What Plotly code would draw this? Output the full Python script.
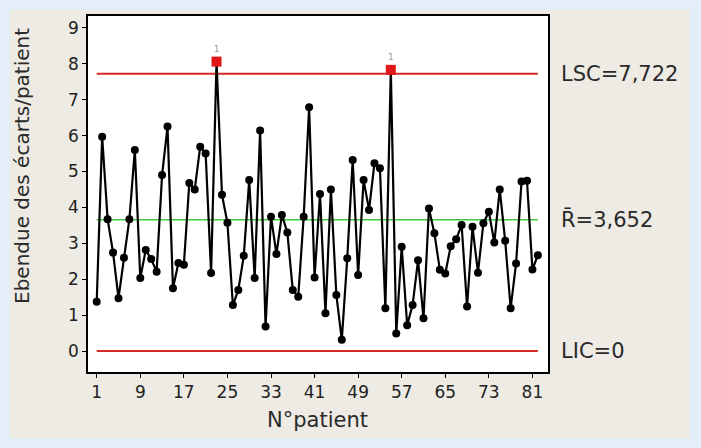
import plotly.graph_objects as go

patients = list(range(1, 83))
ranges = [1.37, 5.97, 3.67, 2.74, 1.47, 2.6, 3.67, 5.6, 2.03, 2.81,
          2.56, 2.21, 4.9, 6.25, 1.75, 2.45, 2.4, 4.68, 4.5, 5.69,
          5.5, 2.17, 8.06, 4.35, 3.57, 1.28, 1.7, 2.65, 4.76, 2.03,
          6.14, 0.68, 3.74, 2.7, 3.79, 3.3, 1.7, 1.51, 3.74, 6.79,
          2.05, 4.37, 1.05, 4.5, 1.56, 0.31, 2.58, 5.32, 2.12, 4.76,
          3.93, 5.23, 5.09, 1.19, 7.83, 0.49, 2.9, 0.72, 1.28, 2.53,
          0.91, 3.97, 3.28, 2.26, 2.16, 2.92, 3.11, 3.51, 1.24, 3.46,
          2.18, 3.56, 3.88, 3.02, 4.5, 3.07, 1.19, 2.44, 4.72, 4.74,
          2.27, 2.67]
LSC = 7.722
RBAR = 3.652
LIC = 0
limit_labels = ["LSC=7,722", "R\u0304=3,652", "LIC=0"]
x_ticks = [1, 9, 17, 25, 33, 41, 49, 57, 65, 73, 81]
y_ticks = list(range(0, 10))

out_x = [p for p, v in zip(patients, ranges) if v > LSC]
out_y = [v for v in ranges if v > LSC]

FONT = "DejaVu Sans"
fig = go.Figure()

# control lines
for val, col, w in [(LSC, "#d42a2a", 2), (LIC, "#d42a2a", 2), (RBAR, "#3ccc3c", 1.5)]:
    fig.add_trace(go.Scatter(x=[patients[0], patients[-1]], y=[val, val], mode="lines",
                             line=dict(color=col, width=w), hoverinfo="skip", showlegend=False))

fig.add_trace(go.Scatter(x=patients, y=ranges, mode="lines+markers",
                         line=dict(color="black", width=2.2),
                         marker=dict(color="black", size=8, symbol="circle"),
                         showlegend=False))
fig.add_trace(go.Scatter(x=out_x, y=out_y, mode="markers+text",
                         marker=dict(color="#e01818", size=10, symbol="square"),
                         text=["1"] * len(out_x), textposition="top center",
                         textfont=dict(size=9, color="#999999", family=FONT),
                         showlegend=False))

W, H = 701, 448
L, R, T, B = 88, 153, 16, 76
pw, ph = W - L - R, H - T - B
fig.add_shape(type="rect", xref="paper", yref="paper",
              x0=(10 - L) / pw, x1=(690 - L) / pw,
              y0=((H - B) - 438) / ph, y1=((H - B) - 10) / ph,
              fillcolor="#eeebe4", line=dict(width=0), layer="below")
fig.add_shape(type="rect", xref="paper", yref="paper", x0=0, x1=1, y0=0, y1=1,
              fillcolor="white", line=dict(width=0), layer="below")

for val, lab in zip([LSC, RBAR, LIC], limit_labels):
    fig.add_annotation(x=1, xref="paper", y=val, yref="y", text=lab, showarrow=False,
                       xanchor="left", yanchor="middle", xshift=11,
                       font=dict(family=FONT, size=21, color="#2a2a2a"))

fig.add_annotation(x=(22 - L) / pw, xref="paper", y=((H - B) - 166) / ph, yref="paper",
                   text="Ebendue des écarts/patient", textangle=-90, showarrow=False,
                   xanchor="center", yanchor="middle",
                   font=dict(family=FONT, size=20, color="#2a2a2a"))
fig.add_annotation(x=(317 - L) / pw, xref="paper", y=((H - B) - 420) / ph, yref="paper",
                   text="N°patient", showarrow=False, xanchor="center", yanchor="middle",
                   font=dict(family=FONT, size=21, color="#2a2a2a"))

fig.update_xaxes(range=[-0.6, 83.86], tickmode="array", tickvals=x_ticks,
                 ticktext=[str(t) for t in x_ticks], showgrid=False, zeroline=False,
                 showline=True, mirror=True, linecolor="black", linewidth=1.5,
                 ticks="outside", ticklen=4, tickcolor="black",
                 tickfont=dict(family=FONT, size=17, color="#222222"))
fig.update_yaxes(range=[-0.585, 9.33], tickmode="array", tickvals=y_ticks,
                 showgrid=False, zeroline=False,
                 showline=True, mirror=True, linecolor="black", linewidth=1.5,
                 ticks="outside", ticklen=4, tickcolor="black",
                 tickfont=dict(family=FONT, size=17, color="#222222"))

fig.update_layout(width=W, height=H, margin=dict(l=L, r=R, t=T, b=B),
                  paper_bgcolor="#e4eef8", plot_bgcolor="white", showlegend=False)

fig.write_html("out.html", config={"displayModeBar": False},
               post_script="document.body.style.margin='0';document.body.style.padding='0';")
